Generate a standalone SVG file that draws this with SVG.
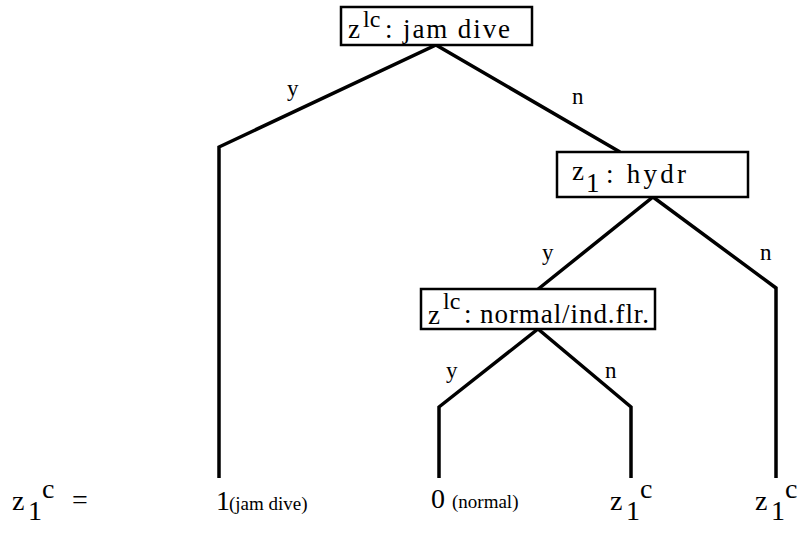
<svg xmlns="http://www.w3.org/2000/svg" width="807" height="533" viewBox="0 0 807 533">
<style>
.box{fill:#fff;stroke:#000;stroke-width:2.5}
.edge{fill:none;stroke:#000;stroke-width:3.5;stroke-linejoin:miter}
text{font-family:"Liberation Serif","Times New Roman",serif;fill:#000}
.t{font-size:27px}
.s{font-size:24px}
.lab{font-size:23px}
.b{font-size:28px}
.bs{font-size:19px}
</style>
<rect width="807" height="533" fill="#fff"/>
<g id="connectors">
<polyline class="edge" points="219,478 219,147 436,45 620,152"/>
<polyline class="edge" points="537,290 653,197 776,288 776,478"/>
<polyline class="edge" points="439,478 439,407 538,329 631,407 631,478"/>
<text class="lab" x="287" y="96">y</text>
<text class="lab" x="572" y="104">n</text>
<text class="lab" x="542" y="260">y</text>
<text class="lab" x="760" y="260">n</text>
<text class="lab" x="446" y="378">y</text>
<text class="lab" x="605" y="378">n</text>
</g>
<g id="node-jam-dive">
<rect class="box" x="341" y="7" width="191" height="38"/>
<text class="t" x="348" y="38">z</text>
<text class="s" x="363" y="27">lc</text>
<text class="t" x="385" y="38" textLength="125" lengthAdjust="spacing">: jam dive</text>
</g>
<g id="node-hydr">
<rect class="box" x="557" y="152" width="191" height="45"/>
<text class="t" x="572" y="180">z</text>
<text class="t" x="586" y="192">1</text>
<text class="t" x="606" y="183" textLength="80" lengthAdjust="spacing">: hydr</text>
</g>
<g id="node-normal">
<rect class="box" x="421" y="289" width="234" height="40"/>
<text class="t" x="428" y="324">z</text>
<text class="s" x="443" y="309">lc</text>
<text class="t" x="464" y="323" textLength="185" lengthAdjust="spacing">: normal/ind.flr.</text>
</g>
<g id="leaf-formula">
<text class="b" x="12" y="510">z</text>
<text class="b" x="28" y="520">1</text>
<text class="b" x="42" y="498">c</text>
<text class="b" x="72" y="509">=</text>
</g>
<g id="leaf-jam-dive">
<text class="b" x="216" y="510">1</text>
<text class="bs" x="229" y="510">(jam dive)</text>
</g>
<g id="leaf-normal">
<text class="b" x="431" y="508">0</text>
<text class="bs" x="452" y="508">(normal)</text>
</g>
<g id="leaf-z1c-a">
<text class="b" x="610" y="510">z</text>
<text class="b" x="626" y="520">1</text>
<text class="b" x="640" y="498">c</text>
</g>
<g id="leaf-z1c-b">
<text class="b" x="755" y="510">z</text>
<text class="b" x="771" y="520">1</text>
<text class="b" x="785" y="498">c</text>
</g>
</svg>
